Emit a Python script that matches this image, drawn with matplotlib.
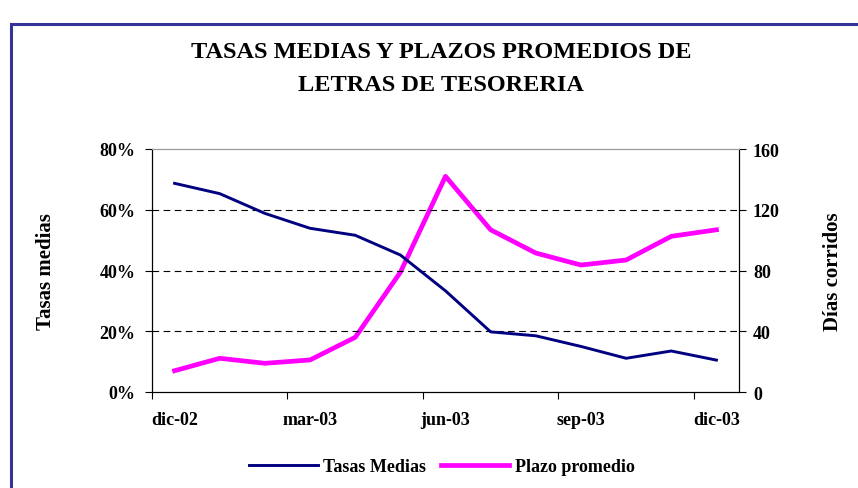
import matplotlib.pyplot as plt
from matplotlib.patches import Rectangle
from matplotlib.ticker import FixedLocator, NullFormatter, FixedFormatter

plt.rcParams["font.family"] = ["Liberation Serif", "DejaVu Serif"]
plt.rcParams["font.weight"] = "bold"

# datos
meses = ["dic-02", "ene-03", "feb-03", "mar-03", "abr-03", "may-03", "jun-03",
         "jul-03", "ago-03", "sep-03", "oct-03", "nov-03", "dic-03"]
tasas_medias = [68.7, 65.3, 58.8, 53.9, 51.6, 45.1, 33.3, 19.8, 18.5, 15.0, 11.1, 13.5, 10.5]
plazo_promedio = [14.0, 22.2, 18.9, 21.1, 36.0, 78.8, 142.0, 106.8, 91.5, 83.6, 86.9, 102.5, 106.8]
etiquetas_x = ["dic-02", "mar-03", "jun-03", "sep-03", "dic-03"]
ticks_izq = [0, 20, 40, 60, 80]
ticks_der = [0, 40, 80, 120, 160]

fig = plt.figure(figsize=(8.58, 4.89), dpi=100)

# marco azul
fig.patches.append(Rectangle((11 / 858, -0.05), 1.1, 1 - 25 / 489 + 0.05,
                             transform=fig.transFigure, fill=False,
                             edgecolor="#333399", linewidth=2.2))

ax = fig.add_axes([152 / 858, 96 / 489, 587 / 858, 243 / 489])
ax2 = ax.twinx()

x = list(range(len(meses)))
l1, = ax.plot(x, tasas_medias, color="#000080", linewidth=2.1, label="Tasas Medias")
l2, = ax2.plot(x, plazo_promedio, color="#FF00FF", linewidth=3.4, label="Plazo promedio")
ax.set_zorder(ax2.get_zorder() + 1)
ax.patch.set_visible(False)

ax.set_xlim(-0.5, len(meses) - 0.5)
ax.set_ylim(0, 80)
ax2.set_ylim(0, 160)

# ticks entre categorías, etiquetas en el centro
ax.xaxis.set_major_locator(FixedLocator([-0.5, 2.5, 5.5, 8.5, 11.5]))
ax.xaxis.set_major_formatter(NullFormatter())
ax.xaxis.set_minor_locator(FixedLocator([meses.index(m) for m in etiquetas_x]))
ax.xaxis.set_minor_formatter(FixedFormatter(etiquetas_x))
ax.tick_params(axis="x", which="major", direction="out", length=5, color="black")
ax.tick_params(axis="x", which="minor", length=0, pad=14, labelsize=13)

ax.set_yticks(ticks_izq)
ax.set_yticklabels([f"{t}%" for t in ticks_izq])
ax2.set_yticks(ticks_der)
ax.tick_params(axis="y", direction="out", length=5, labelsize=13, pad=7)
ax2.tick_params(axis="y", direction="out", length=5, labelsize=13, pad=5)

for t in [20, 40, 60]:
    ax.axhline(t, color="black", linestyle=(0, (6, 4)), linewidth=0.8, zorder=0)

for a in (ax, ax2):
    a.spines["top"].set_color("#999999")
    a.spines["left"].set_color("black")
    a.spines["right"].set_color("black")
    a.spines["bottom"].set_color("black")

ax.set_ylabel("Tasas medias", fontsize=15, fontweight="bold", labelpad=31)
ax2.set_ylabel("Días corridos", fontsize=15, fontweight="bold", labelpad=31)

fig.text(0.514, 0.859, "TASAS MEDIAS Y PLAZOS PROMEDIOS DE\nLETRAS DE TESORERIA",
         ha="center", va="center", fontsize=17.5, fontweight="bold", linespacing=1.75)

fig.legend([l1, l2], ["Tasas Medias", "Plazo promedio"], loc="center",
           bbox_to_anchor=(0.515, 0.043), ncol=2, frameon=False, fontsize=13,
           handlelength=3.8, handletextpad=0.3, columnspacing=0.8)

fig.savefig("out.png", dpi=100)
